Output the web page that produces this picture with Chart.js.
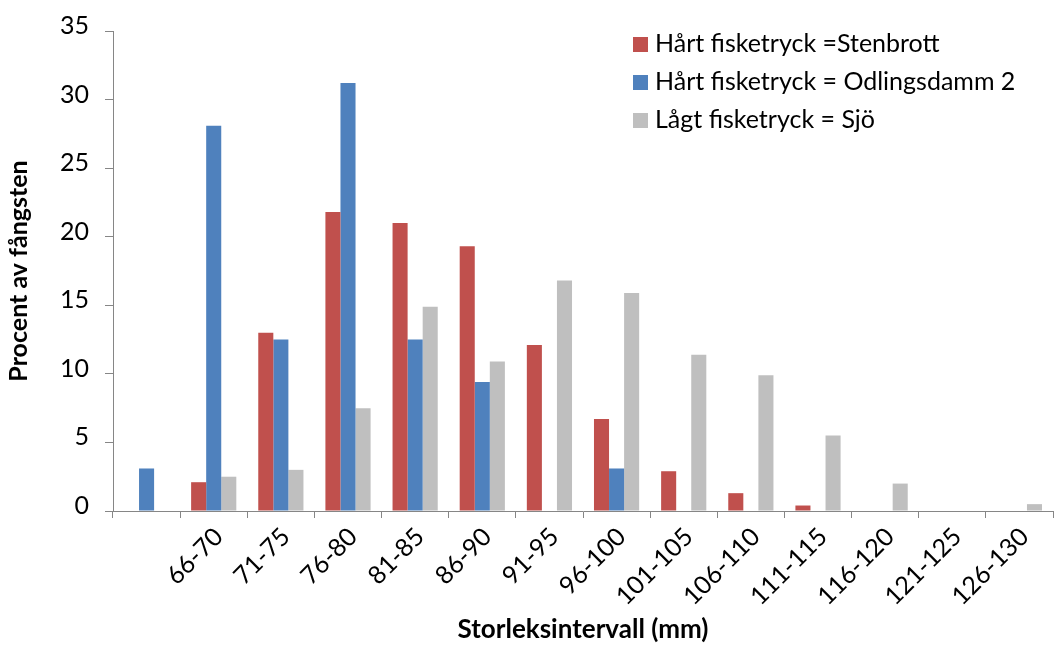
<!DOCTYPE html>
<html>
<head>
<meta charset="UTF-8">
<title>Storleksintervall</title>
<script src="https://cdn.jsdelivr.net/npm/chart.js"></script>
<style>
  body { margin: 0; background: #fff; }
</style>
</head>
<body>
<canvas id="chart" width="1054" height="646"></canvas>
<script>
// categories (first one has no label in the original)
const labels = ['', '66-70', '71-75', '76-80', '81-85', '86-90', '91-95', '96-100',
                '101-105', '106-110', '111-115', '116-120', '121-125', '126-130'];

// percent of catch per size class
const stenbrott   = [0, 2.1, 13.0, 21.8, 21.0, 19.3, 12.1, 6.7, 2.9, 1.3, 0.4, 0, 0, 0];
const odlingsdamm = [3.1, 28.1, 12.5, 31.2, 12.5, 9.4, 0, 3.1, 0, 0, 0, 0, 0, 0];
const sjo         = [0, 2.5, 3.0, 7.5, 14.9, 10.9, 16.8, 15.9, 11.4, 9.9, 5.5, 2.0, 0, 0.5];

const yTicks = [0, 5, 10, 15, 20, 25, 30, 35];

const axisColor = '#868686';
Chart.defaults.font.family = 'Lato';
Chart.defaults.color = '#000';

// legend sits inside the plot, top right, like the Excel original
const legendBox = {
    id: 'legendBox',
    afterDraw(chart) {
        const ctx = chart.ctx;
        ctx.save();
        ctx.font = '25px Lato';
        ctx.textBaseline = 'alphabetic';
        chart.data.datasets.forEach((ds, i) => {
            const base = 52 + i * 38;
            ctx.fillStyle = ds.backgroundColor;
            ctx.fillRect(633, base - 15, 15, 15);
            ctx.fillStyle = '#000';
            ctx.fillText(ds.label, 655, base);
        });
        ctx.restore();
    }
};

new Chart(document.getElementById('chart'), {
    type: 'bar',
    data: {
        labels: labels,
        datasets: [
            { label: 'Hårt fisketryck =Stenbrott', data: stenbrott, backgroundColor: '#C0504D' },
            { label: 'Hårt fisketryck = Odlingsdamm 2', data: odlingsdamm, backgroundColor: '#4F81BD' },
            { label: 'Lågt fisketryck = Sjö', data: sjo, backgroundColor: '#BFBFBF' }
        ]
    },
    options: {
        responsive: false,
        animation: false,
        layout: { padding: { top: 24, right: 1, left: 0, bottom: 0 } },
        datasets: {
            bar: { categoryPercentage: 0.673, barPercentage: 1.0 }
        },
        plugins: {
            legend: { display: false },
            tooltip: { enabled: false }
        },
        scales: {
            x: {
                grid: { offset: true, drawOnChartArea: false, drawTicks: true, tickLength: 7, color: axisColor },
                border: { color: axisColor },
                ticks: { minRotation: 45, maxRotation: 45, padding: 4, labelOffset: 5, font: { size: 25 }, autoSkip: false },
                title: { display: true, text: 'Storleksintervall (mm)', font: { size: 26, weight: 'bold' }, padding: { top: 0, bottom: 1 } },
                afterFit: (scale) => { scale.height = 135; }
            },
            y: {
                min: 0,
                max: 35,
                afterBuildTicks: (scale) => { scale.ticks = yTicks.map(v => ({ value: v })); },
                grid: { drawOnChartArea: false, drawTicks: true, tickLength: 8, color: axisColor },
                border: { color: axisColor },
                ticks: { padding: 16, labelOffset: -5, font: { size: 25 } },
                title: { display: true, text: 'Procent av fångsten', font: { size: 25, weight: 'bold' }, padding: { top: 4, bottom: 0 } },
                afterFit: (scale) => { scale.width = 113; }
            }
        }
    },
    plugins: [legendBox]
});
</script>
</body>
</html>
